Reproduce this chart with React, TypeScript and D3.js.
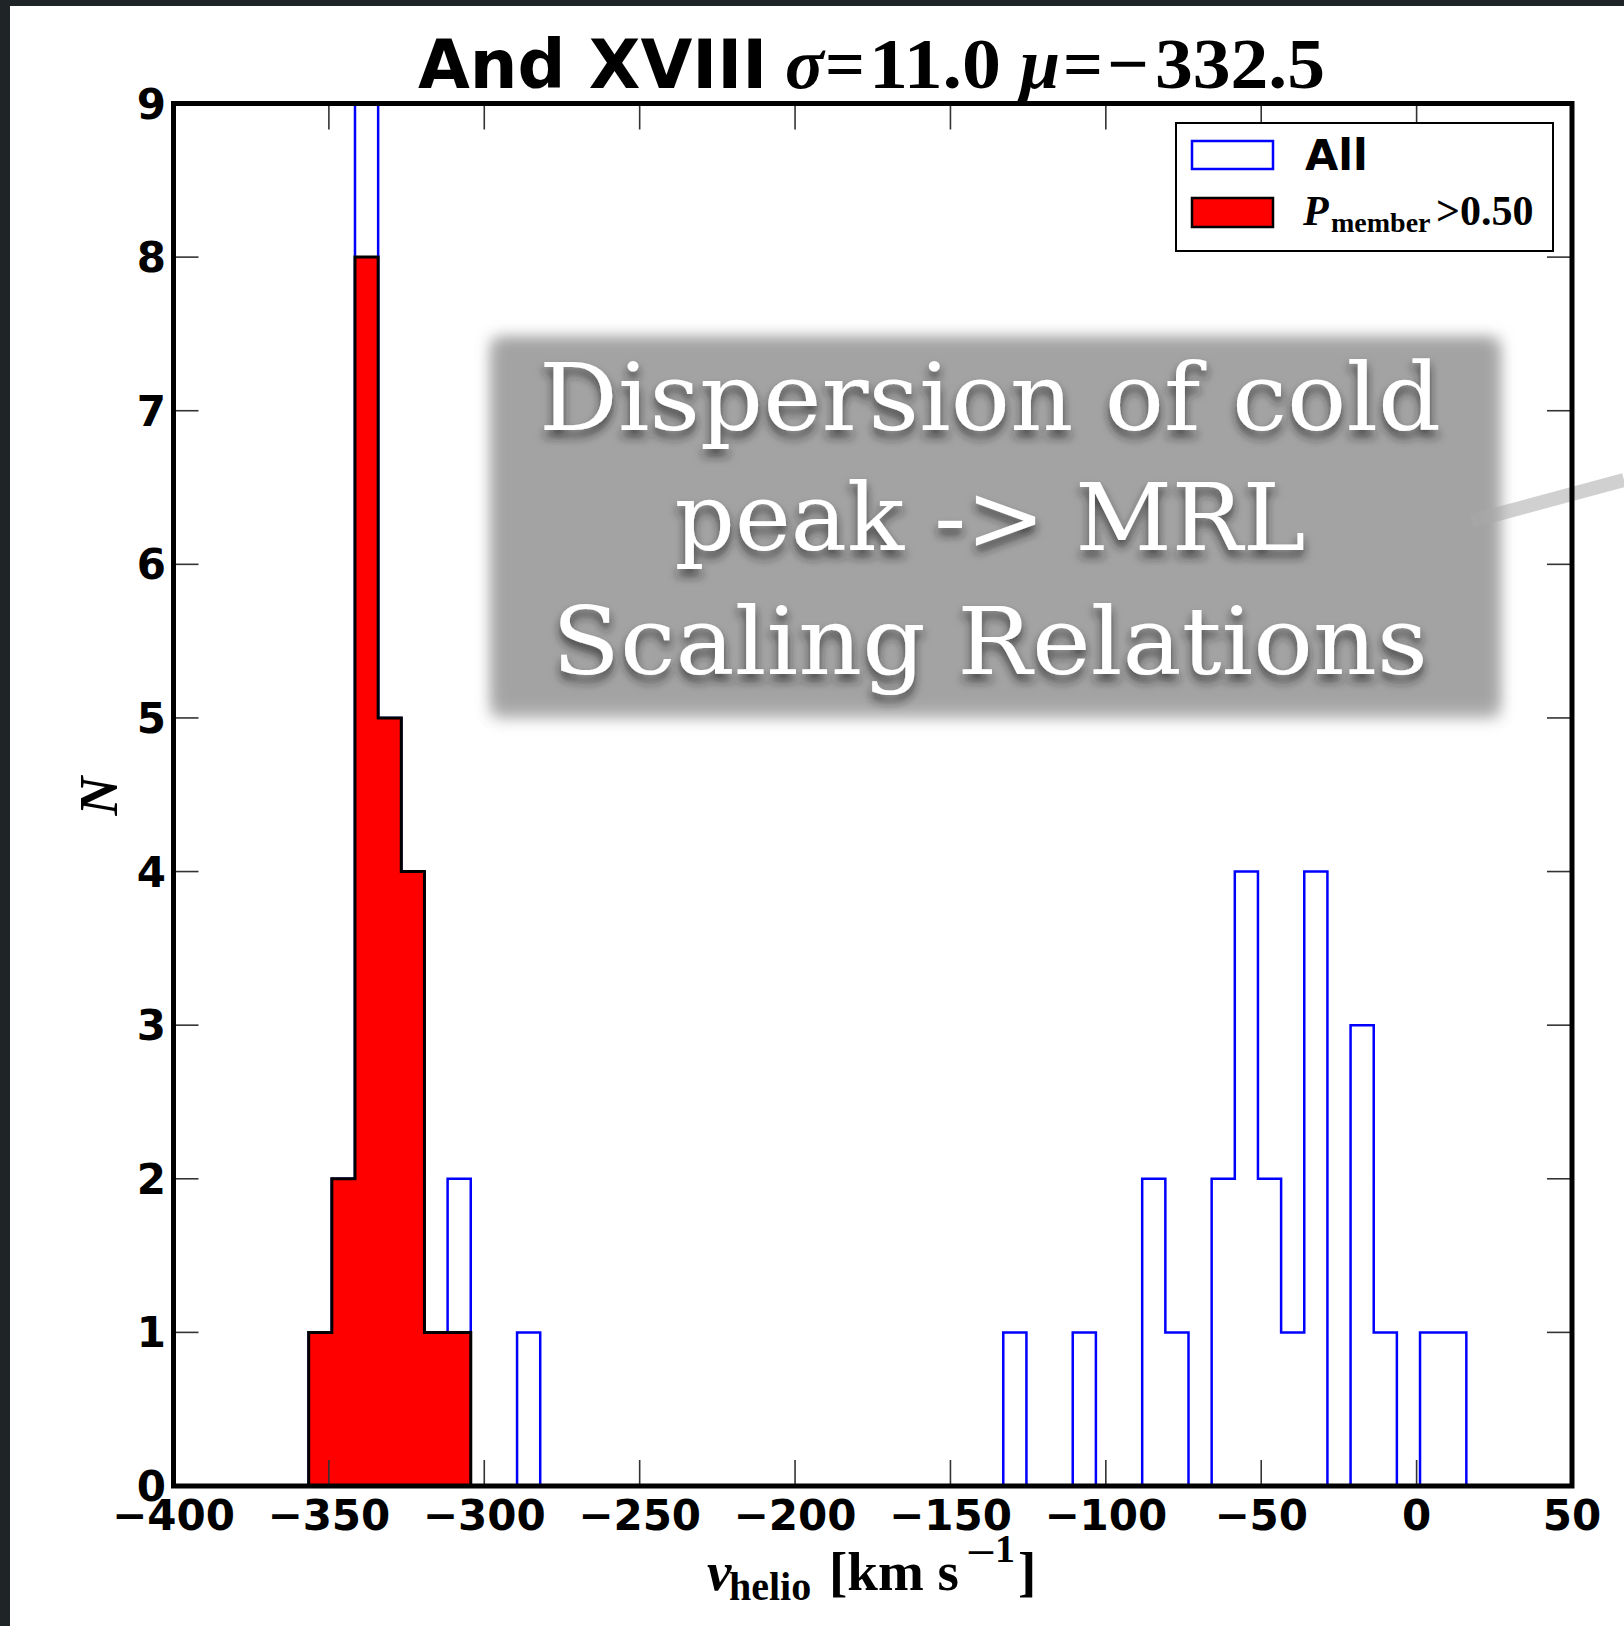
import React from 'react';
import * as d3 from 'd3';

// ---- data ----
const binMin = -356.5;
const binMax = 16.0;
const nBins = 50;
// counts of all stars per velocity bin
const allCounts = [
  1, 2, 9, 5, 4, 1, 2, 0, 0, 1,
  0, 0, 0, 0, 0, 0, 0, 0, 0, 0,
  0, 0, 0, 0, 0, 0, 0, 0, 0, 0,
  1, 0, 0, 1, 0, 0, 2, 1, 0, 2,
  4, 2, 1, 4, 0, 3, 1, 0, 1, 1,
];
// counts of members (P_member > 0.50), first bins
const memberCounts = [1, 2, 8, 5, 4, 1, 1];
const xTicks = [-400, -350, -300, -250, -200, -150, -100, -50, 0, 50];
const yTicks = [0, 1, 2, 3, 4, 5, 6, 7, 8, 9];
const annotationLines = ['Dispersion of cold', 'peak -> MRL', 'Scaling Relations'];

const W = 1624;
const H = 1626;
const L = 173.5, R = 1572, T = 103.5, B = 1486;

const x = d3.scaleLinear().domain([-400, 50]).range([L, R]);
const y = d3.scaleLinear().domain([0, 9]).range([B, T]);
const binW = (binMax - binMin) / nBins;

function stepPoints(counts: number[]): [number, number][] {
  const pts: [number, number][] = [[binMin, 0]];
  counts.forEach((c, i) => {
    pts.push([binMin + i * binW, c]);
    pts.push([binMin + (i + 1) * binW, c]);
  });
  pts.push([binMin + counts.length * binW, 0]);
  return pts;
}

const line = d3.line<[number, number]>().x((d) => x(d[0])).y((d) => y(d[1]));

const fmt = (v: number) => (v < 0 ? '\u2212' + Math.abs(v) : String(v));

const sans = '"DejaVu Sans", sans-serif';
const serif = '"Liberation Serif", "Times New Roman", serif';

export default function App() {
  const allPath = line(stepPoints(allCounts)) || '';
  const memPath = (line(stepPoints(memberCounts)) || '') + 'Z';
  const textLens = [902, 631, 876];
  const baselines = [430, 550, 674];
  return (
    <svg width={W} height={H} style={{ position: 'absolute', left: 0, top: 0 }}>
      <defs>
        <filter id="boxblur" x="-10%" y="-10%" width="120%" height="120%">
          <feGaussianBlur stdDeviation="8" />
        </filter>
        <filter id="txtshadow" x="-10%" y="-20%" width="120%" height="150%">
          <feGaussianBlur in="SourceAlpha" stdDeviation="5" result="b" />
          <feOffset in="b" dx="0" dy="7" result="o" />
          <feFlood floodColor="#222" floodOpacity="0.75" />
          <feComposite in2="o" operator="in" result="s" />
          <feMerge>
            <feMergeNode in="s" />
            <feMergeNode in="SourceGraphic" />
          </feMerge>
        </filter>
      </defs>
      <rect x={0} y={0} width={W} height={H} fill="#1f2427" />
      <rect x={10} y={6} width={W - 10} height={H - 6} fill="#ffffff" />

      {/* histograms */}
      <path d={allPath} fill="none" stroke="#0000ff" strokeWidth={2.5} />
      <path d={memPath} fill="#ff0000" stroke="#000" strokeWidth={3} strokeLinejoin="miter" />

      {/* ticks */}
      {xTicks.map((t) => (
        <g key={'xt' + t} stroke="#333" strokeWidth={1.6}>
          <line x1={x(t)} x2={x(t)} y1={B} y2={B - 26} />
          <line x1={x(t)} x2={x(t)} y1={T} y2={T + 26} />
        </g>
      ))}
      {yTicks.map((t) => (
        <g key={'yt' + t} stroke="#333" strokeWidth={1.6}>
          <line x1={L} x2={L + 25} y1={y(t)} y2={y(t)} />
          <line x1={R} x2={R - 25} y1={y(t)} y2={y(t)} />
        </g>
      ))}

      {/* annotation box */}
      <rect x={492} y={336} width={1007} height={376} fill="#777" filter="url(#boxblur)" opacity={0.5} transform="translate(0,6)" />
      <rect x={494} y={338} width={1003} height={372} fill="#a3a3a3" filter="url(#boxblur)" />
      <g filter="url(#txtshadow)">
        {annotationLines.map((s, i) => (
          <text
            key={s}
            x={990}
            y={baselines[i]}
            textAnchor="middle"
            fontFamily='"DejaVu Serif", serif'
            fontSize={94}
            fill="#ffffff"
            textLength={textLens[i]}
            lengthAdjust="spacingAndGlyphs"
          >
            {s}
          </text>
        ))}
      </g>
      {/* pointer line */}
      <line x1={1472} y1={521} x2={1624} y2={480} stroke="rgb(170,170,170)" strokeOpacity={0.55} strokeWidth={14} />

      {/* frame */}
      <rect x={L} y={T} width={R - L} height={B - T} fill="none" stroke="#000" strokeWidth={5} />

      {/* tick labels */}
      {xTicks.map((t) => (
        <text key={'xl' + t} x={x(t)} y={1530} textAnchor="middle" fontFamily={sans} fontWeight="bold" fontSize={42} fill="#000">
          {fmt(t)}
        </text>
      ))}
      {yTicks.map((t) => (
        <text key={'yl' + t} x={166} y={y(t) + 15} textAnchor="end" fontFamily={sans} fontWeight="bold" fontSize={42} fill="#000">
          {fmt(t)}
        </text>
      ))}

      {/* title */}
      <text x={418} y={88} fontFamily={sans} fontWeight="bold" fontSize={67} fill="#000">And XVIII</text>
      <g fontFamily={serif} fontWeight="bold" fontSize={72} fill="#000">
        <text x={785} y={88} fontStyle="italic">σ</text>
        <text x={825} y={88} textLength={40} lengthAdjust="spacingAndGlyphs">=</text>
        <text x={869} y={88} textLength={132} lengthAdjust="spacingAndGlyphs">11.0</text>
        <text x={1020} y={88} fontStyle="italic">μ</text>
        <text x={1063} y={88} textLength={40} lengthAdjust="spacingAndGlyphs">=</text>
        <text x={1107} y={88} textLength={42} lengthAdjust="spacingAndGlyphs">−</text>
        <text x={1155} y={88} textLength={170} lengthAdjust="spacingAndGlyphs">332.5</text>
      </g>

      {/* axis labels */}
      <text x={117} y={796} transform="rotate(-90,117,796)" textAnchor="middle" fontFamily={serif} fontStyle="italic" fontWeight="bold" fontSize={54} fill="#000">N</text>
      <g fontFamily={serif} fontWeight="bold" fill="#000">
        <text x={707} y={1590} fontSize={55} fontStyle="italic">v</text>
        <text x={729} y={1600} fontSize={40}>helio</text>
        <text x={829} y={1590} fontSize={55}>[km s</text>
        <text x={966} y={1566} fontSize={40} textLength={30} lengthAdjust="spacingAndGlyphs">−</text>
        <text x={995} y={1562} fontSize={40}>1</text>
        <text x={1018} y={1590} fontSize={55}>]</text>
      </g>

      {/* legend */}
      <rect x={1176} y={123} width={377} height={128} fill="#fff" stroke="#000" strokeWidth={2} />
      <rect x={1192} y={141} width={81} height={28} fill="none" stroke="#0000ff" strokeWidth={2.5} />
      <rect x={1192} y={198} width={81} height={29} fill="#ff0000" stroke="#000" strokeWidth={2.5} />
      <text x={1305} y={170} fontFamily={sans} fontWeight="bold" fontSize={43} fill="#000">All</text>
      <g fontFamily={serif} fontWeight="bold" fill="#000">
        <text x={1303} y={225} fontSize={42} fontStyle="italic">P</text>
        <text x={1331} y={232} fontSize={28}>member</text>
        <text x={1436} y={225} fontSize={42}>&gt;0.50</text>
      </g>
    </svg>
  );
}
